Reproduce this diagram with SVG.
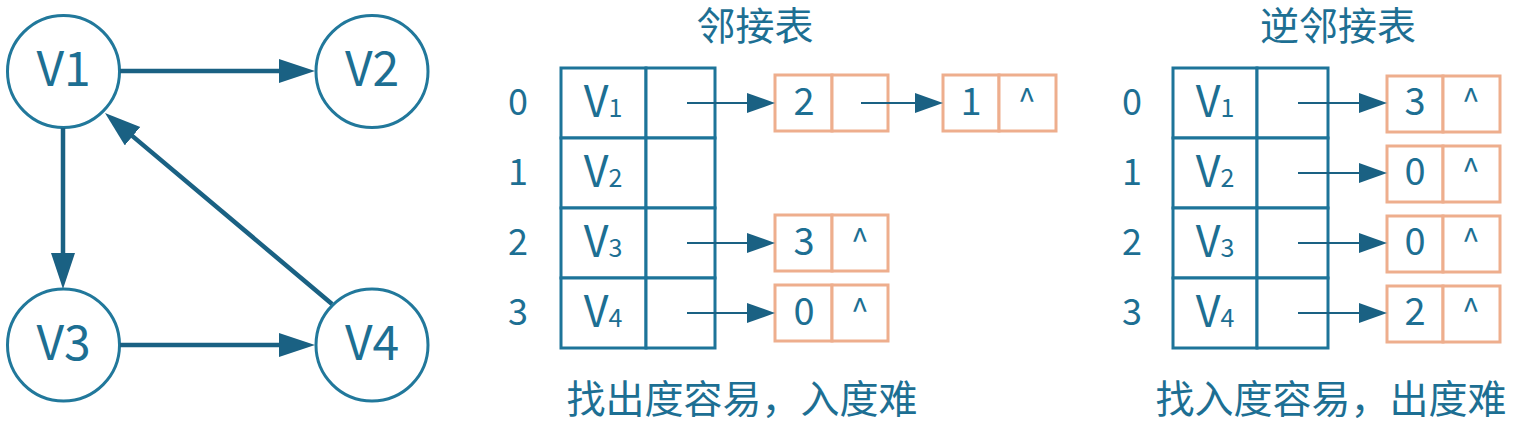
<svg xmlns="http://www.w3.org/2000/svg" width="1517" height="430" viewBox="0 0 1517 430">
<style>
text{font-family:"Noto Sans CJK SC","Noto Sans",sans-serif;fill:#1d6f93;text-anchor:middle}
.node circle{fill:#fff;stroke:#21789b;stroke-width:3}
.node text{font-size:48px}
.big{stroke:#1a6183;stroke-width:4.5;fill:none}
.small{stroke:#1a6183;stroke-width:2;fill:none}
.tbl{fill:#fff;stroke:#1d7499;stroke-width:3}
.ob{fill:#fff;stroke:#eeae8d;stroke-width:3}
.idx{font-size:36px}
.v{font-size:43px}
.sub{font-size:25px}
.d{font-size:38px}
.c{font-size:32px}
.t{font-size:39px}
</style>
<defs>
<marker id="ah" markerUnits="userSpaceOnUse" markerWidth="36" markerHeight="26" refX="16" refY="12" orient="auto"><path d="M0,0 L36,12 L0,24 z" fill="#1a6183"/></marker>
<marker id="as" markerUnits="userSpaceOnUse" markerWidth="28" markerHeight="20" refX="14" refY="10" orient="auto"><path d="M0,0 L28,10 L0,20 z" fill="#1a6183"/></marker>
</defs>
<rect width="1517" height="430" fill="#fff"/>
<g id="V1" class="node"><circle cx="63.5" cy="71.5" r="56"/><text x="63.5" y="86">V1</text></g>
<g id="V2" class="node"><circle cx="372" cy="71.5" r="56"/><text x="372" y="86">V2</text></g>
<g id="V3" class="node"><circle cx="63.5" cy="345" r="56"/><text x="63.5" y="360">V3</text></g>
<g id="V4" class="node"><circle cx="372" cy="345" r="56"/><text x="372" y="360">V4</text></g>

<g id="adj-table">
<text class="t" x="755" y="40">邻接表</text>
<rect class="tbl" x="561" y="68" width="85" height="70"/>
<rect class="tbl" x="646" y="68" width="69" height="70"/>
<rect class="tbl" x="561" y="138" width="85" height="70"/>
<rect class="tbl" x="646" y="138" width="69" height="70"/>
<rect class="tbl" x="561" y="208" width="85" height="70"/>
<rect class="tbl" x="646" y="208" width="69" height="70"/>
<rect class="tbl" x="561" y="278" width="85" height="70"/>
<rect class="tbl" x="646" y="278" width="69" height="70"/>
<text class="idx" x="518" y="115">0</text>
<text class="idx" x="518" y="185">1</text>
<text class="idx" x="518" y="255">2</text>
<text class="idx" x="518" y="325">3</text>
<text class="v" x="603" y="117">V<tspan class="sub">1</tspan></text>
<text class="v" x="603" y="187">V<tspan class="sub">2</tspan></text>
<text class="v" x="603" y="257">V<tspan class="sub">3</tspan></text>
<text class="v" x="603" y="327">V<tspan class="sub">4</tspan></text>
<text class="t" x="742" y="413">找出度容易，入度难</text>
</g>
<g id="adj-nodes">
<rect class="ob" x="775" y="75" width="57" height="56"/><rect class="ob" x="832" y="75" width="56" height="56"/>
<text class="d" x="804" y="115">2</text>
<rect class="ob" x="943" y="75" width="56" height="56"/><rect class="ob" x="999" y="75" width="57" height="56"/>
<text class="d" x="971" y="115">1</text><text class="c" x="1027" y="112">^</text>
<rect class="ob" x="775" y="215" width="57" height="56"/><rect class="ob" x="832" y="215" width="56" height="56"/>
<text class="d" x="804" y="255">3</text><text class="c" x="860" y="252">^</text>
<rect class="ob" x="775" y="285" width="57" height="56"/><rect class="ob" x="832" y="285" width="56" height="56"/>
<text class="d" x="804" y="325">0</text><text class="c" x="860" y="322">^</text>
</g>

<g id="inv-table">
<text class="t" x="1338" y="40">逆邻接表</text>
<rect class="tbl" x="1173" y="68" width="84" height="70"/>
<rect class="tbl" x="1257" y="68" width="71" height="70"/>
<rect class="tbl" x="1173" y="138" width="84" height="70"/>
<rect class="tbl" x="1257" y="138" width="71" height="70"/>
<rect class="tbl" x="1173" y="208" width="84" height="70"/>
<rect class="tbl" x="1257" y="208" width="71" height="70"/>
<rect class="tbl" x="1173" y="278" width="84" height="70"/>
<rect class="tbl" x="1257" y="278" width="71" height="70"/>
<text class="idx" x="1132" y="115">0</text>
<text class="idx" x="1132" y="185">1</text>
<text class="idx" x="1132" y="255">2</text>
<text class="idx" x="1132" y="325">3</text>
<text class="v" x="1215" y="117">V<tspan class="sub">1</tspan></text>
<text class="v" x="1215" y="187">V<tspan class="sub">2</tspan></text>
<text class="v" x="1215" y="257">V<tspan class="sub">3</tspan></text>
<text class="v" x="1215" y="327">V<tspan class="sub">4</tspan></text>
<text class="t" x="1331" y="413">找入度容易，出度难</text>
</g>
<g id="inv-nodes">
<rect class="ob" x="1387" y="76" width="56" height="56"/><rect class="ob" x="1443" y="76" width="57" height="56"/>
<text class="d" x="1415" y="115">3</text><text class="c" x="1471" y="112">^</text>
<rect class="ob" x="1387" y="146" width="56" height="56"/><rect class="ob" x="1443" y="146" width="57" height="56"/>
<text class="d" x="1415" y="185">0</text><text class="c" x="1471" y="182">^</text>
<rect class="ob" x="1387" y="216" width="56" height="56"/><rect class="ob" x="1443" y="216" width="57" height="56"/>
<text class="d" x="1415" y="255">0</text><text class="c" x="1471" y="252">^</text>
<rect class="ob" x="1387" y="286" width="56" height="56"/><rect class="ob" x="1443" y="286" width="57" height="56"/>
<text class="d" x="1415" y="325">2</text><text class="c" x="1471" y="322">^</text>
</g>

<g id="connectors">
<line class="big" x1="120" y1="71" x2="295" y2="71" marker-end="url(#ah)"/>
<line class="big" x1="63" y1="128" x2="63" y2="269" marker-end="url(#ah)"/>
<line class="big" x1="120" y1="345" x2="295" y2="345" marker-end="url(#ah)"/>
<line class="big" x1="332" y1="304" x2="120.3" y2="125.9" marker-end="url(#ah)"/>
<line class="small" x1="687" y1="103" x2="761" y2="103" marker-end="url(#as)"/>
<line class="small" x1="861" y1="103" x2="929" y2="103" marker-end="url(#as)"/>
<line class="small" x1="687" y1="243" x2="761" y2="243" marker-end="url(#as)"/>
<line class="small" x1="687" y1="313" x2="761" y2="313" marker-end="url(#as)"/>
<line class="small" x1="1298" y1="103" x2="1373" y2="103" marker-end="url(#as)"/>
<line class="small" x1="1298" y1="173" x2="1373" y2="173" marker-end="url(#as)"/>
<line class="small" x1="1298" y1="243" x2="1373" y2="243" marker-end="url(#as)"/>
<line class="small" x1="1298" y1="313" x2="1373" y2="313" marker-end="url(#as)"/>
</g>
</svg>
